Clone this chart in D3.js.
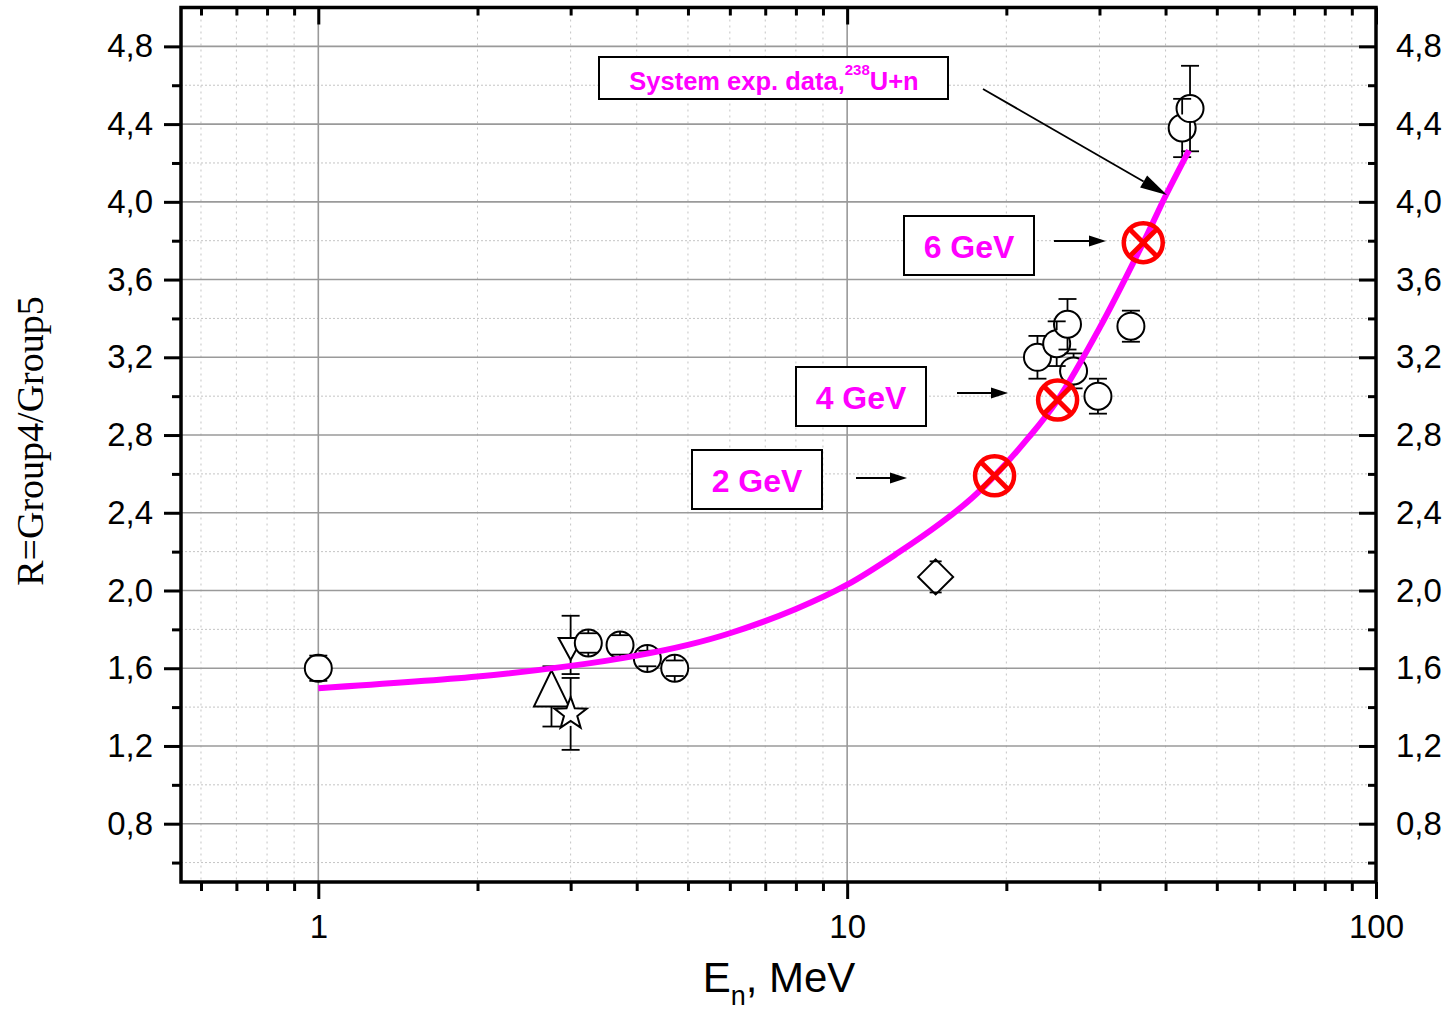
<!DOCTYPE html>
<html>
<head>
<meta charset="utf-8">
<script src="https://cdn.jsdelivr.net/npm/d3@7"></script>
<style>
  html, body { margin: 0; padding: 0; background: #fff; }
  svg { display: block; }
</style>
</head>
<body>
<svg id="chart" width="1456" height="1013"></svg>
<script>
// ---- data: ratio R = Group4/Group5 versus neutron energy ----
// experimental points drawn as open circles
const circleE   = [1.0, 3.24, 3.72, 4.19, 4.72, 22.9, 24.9, 26.1, 26.8, 29.8, 34.4, 43.0, 44.5];
const circleR   = [1.60, 1.73, 1.72, 1.65, 1.60, 3.20, 3.27, 3.37, 3.13, 3.00, 3.36, 4.38, 4.48];
const circleErr = [0.065, 0.05, 0.05, 0.04, 0.04, 0.11, 0.115, 0.13, 0.09, 0.09, 0.08, 0.15, 0.22];

// other data sets, one marker each
const upTriE = [2.76], upTriR = [1.455], upTriErr = [0.155];
const downTriE = [3.0], downTriR = [1.72], downTriErr = [0.15];
const starE = [3.0], starR = [1.365], starErr = [0.185];
const diamondE = [14.7], diamondR = [2.07], diamondErr = [0.08];

// systematics curve
const fitE = [1, 2, 3, 4, 5, 6, 8, 10, 12.5, 15, 17.2, 19, 22, 25, 30, 36.3, 40, 44.3];
const fitR = [1.497, 1.557, 1.612, 1.665, 1.72, 1.78, 1.905, 2.03, 2.195, 2.345, 2.475, 2.59, 2.785, 2.98, 3.35, 3.79, 4.03, 4.265];

// calculated points for proton energies
const calcE = [19.0, 25.0, 36.3];
const calcR = [2.59, 2.98, 3.79];
const calcLabels = ["2 GeV", "4 GeV", "6 GeV"];

// axis ticks
const xMajorTicks = [1, 10, 100];
const xMinorTicks = [0.6, 0.7, 0.8, 0.9, 2, 3, 4, 5, 6, 7, 8, 9, 20, 30, 40, 50, 60, 70, 80, 90];
const yMajorTicks = [0.8, 1.2, 1.6, 2.0, 2.4, 2.8, 3.2, 3.6, 4.0, 4.4, 4.8];
const yMinorTicks = [0.6, 1.0, 1.4, 1.8, 2.2, 2.6, 3.0, 3.4, 3.8, 4.2, 4.6];

// ---- layout ----
const L = 181, R = 1376, T = 7.5, B = 882;
const svg = d3.select("#chart");
svg.append("rect").attr("width", 1456).attr("height", 1013).attr("fill", "#fff");

const x = d3.scaleLog().domain([0.55, 100]).range([L, R]);
const y = d3.scaleLinear().domain([0.5, 5.0]).range([B, T]);
const fmt = v => d3.format(".1f")(v).replace(".", ",");
const SANS = "'Liberation Sans', Arial, sans-serif";

// ---- grid ----
const grid = svg.append("g");
grid.selectAll(".ymin").data(yMinorTicks).join("line")
  .attr("x1", L).attr("x2", R).attr("y1", d => y(d)).attr("y2", d => y(d))
  .attr("stroke", "#c4c4c4").attr("stroke-width", 1).attr("stroke-dasharray", "2,2");
grid.selectAll(".xmin").data(xMinorTicks).join("line")
  .attr("y1", T).attr("y2", B).attr("x1", d => x(d)).attr("x2", d => x(d))
  .attr("stroke", "#c4c4c4").attr("stroke-width", 1).attr("stroke-dasharray", "2,4");
grid.selectAll(".ymaj").data(yMajorTicks).join("line")
  .attr("x1", L).attr("x2", R).attr("y1", d => y(d)).attr("y2", d => y(d))
  .attr("stroke", "#9a9a9a").attr("stroke-width", 1.6);
grid.selectAll(".xmaj").data(xMajorTicks.filter(d => d < 100)).join("line")
  .attr("y1", T).attr("y2", B).attr("x1", d => x(d)).attr("x2", d => x(d))
  .attr("stroke", "#9a9a9a").attr("stroke-width", 1.6);

// ---- axes ----
function styleAxis(g) {
  g.select(".domain").remove();
  g.selectAll(".tick line").attr("stroke", "#000").attr("stroke-width", 3);
  g.selectAll(".tick text").attr("font-family", SANS).attr("font-size", 33).attr("fill", "#000");
}
// bottom: outward ticks with labels
svg.append("g").attr("transform", `translate(0,${B})`)
  .call(d3.axisBottom(x).tickValues(xMajorTicks).tickFormat(d3.format("d")).tickSize(17).tickPadding(16))
  .call(styleAxis);
svg.append("g").attr("transform", `translate(0,${B})`)
  .call(d3.axisBottom(x).tickValues(xMinorTicks).tickFormat("").tickSize(9))
  .call(styleAxis);
// top: inward ticks
svg.append("g").attr("transform", `translate(0,${T})`)
  .call(d3.axisTop(x).tickValues(xMajorTicks).tickFormat("").tickSize(-17))
  .call(styleAxis);
svg.append("g").attr("transform", `translate(0,${T})`)
  .call(d3.axisTop(x).tickValues(xMinorTicks).tickFormat("").tickSize(-8))
  .call(styleAxis);
// left: outward ticks with labels
svg.append("g").attr("transform", `translate(${L},0)`)
  .call(d3.axisLeft(y).tickValues(yMajorTicks).tickFormat(fmt).tickSize(17).tickPadding(11))
  .call(styleAxis);
svg.append("g").attr("transform", `translate(${L},0)`)
  .call(d3.axisLeft(y).tickValues(yMinorTicks).tickFormat("").tickSize(9))
  .call(styleAxis);
// right: inward ticks, labels outside
svg.append("g").attr("transform", `translate(${R},0)`)
  .call(d3.axisRight(y).tickValues(yMajorTicks).tickFormat(fmt).tickSize(-17).tickPadding(20))
  .call(styleAxis);
svg.append("g").attr("transform", `translate(${R},0)`)
  .call(d3.axisRight(y).tickValues(yMinorTicks).tickFormat("").tickSize(-8))
  .call(styleAxis);

// frame
svg.append("rect").attr("x", L).attr("y", T).attr("width", R - L).attr("height", B - T)
  .attr("fill", "none").attr("stroke", "#000").attr("stroke-width", 3.5);

// ---- axis titles ----
const xt = svg.append("text").attr("x", 779).attr("y", 992).attr("text-anchor", "middle")
  .attr("font-family", SANS).attr("font-size", 42).attr("fill", "#000");
xt.append("tspan").text("E");
xt.append("tspan").attr("font-size", 27).attr("dy", 13).text("n");
xt.append("tspan").attr("dy", -13).text(", MeV");

svg.append("text").attr("transform", "translate(43,441) rotate(-90)")
  .attr("text-anchor", "middle")
  .attr("font-family", "'Liberation Serif', 'Times New Roman', serif")
  .attr("font-size", 38).attr("fill", "#000").text("R=Group4/Group5");

// ---- markers with error bars ----
// error bar stems start at the symbol outline (gap = symbol extent above / below)
const marks = svg.append("g");
function errorBars(E, Rv, Err, cap, gapUp, gapDown) {
  const g = marks.append("g").attr("stroke", "#000").attr("stroke-width", 1.8).attr("fill", "none");
  E.forEach((e, i) => {
    const cx = x(e), cy = y(Rv[i]), lo = y(Rv[i] - Err[i]), hi = y(Rv[i] + Err[i]);
    g.append("line").attr("x1", cx).attr("x2", cx).attr("y1", hi).attr("y2", cy - gapUp);
    g.append("line").attr("x1", cx).attr("x2", cx).attr("y1", cy + gapDown).attr("y2", lo);
    g.append("line").attr("x1", cx - cap).attr("x2", cx + cap).attr("y1", lo).attr("y2", lo);
    g.append("line").attr("x1", cx - cap).attr("x2", cx + cap).attr("y1", hi).attr("y2", hi);
  });
}
function symbols(E, Rv, pathFn) {
  marks.append("g").selectAll("path").data(E).join("path")
    .attr("d", (e, i) => pathFn(x(e), y(Rv[i])))
    .attr("fill", "#fff").attr("stroke", "#000").attr("stroke-width", 2);
}
const circlePath = (cx, cy) => { const r = 13.5; return `M${cx - r},${cy}a${r},${r} 0 1,0 ${2 * r},0a${r},${r} 0 1,0 ${-2 * r},0Z`; };
const upTriPath = (cx, cy) => `M${cx},${cy - 26}L${cx + 17.5},${cy + 10}L${cx - 17.5},${cy + 10}Z`;
const downTriPath = (cx, cy) => `M${cx - 12},${cy - 7}L${cx + 12},${cy - 7}L${cx},${cy + 15}Z`;
const diamondPath = (cx, cy) => `M${cx},${cy - 17.5}L${cx + 17.5},${cy}L${cx},${cy + 17.5}L${cx - 17.5},${cy}Z`;
const starPath = (cx, cy) => {
  const pts = [];
  for (let k = 0; k < 10; k++) {
    const r = k % 2 === 0 ? 17 : 7;
    const a = -Math.PI / 2 + k * Math.PI / 5;
    pts.push([cx + r * Math.cos(a), cy + r * Math.sin(a)]);
  }
  return "M" + pts.map(p => p.join(",")).join("L") + "Z";
};

symbols(upTriE, upTriR, upTriPath);       errorBars(upTriE, upTriR, upTriErr, 9, 26, 10);
symbols(downTriE, downTriR, downTriPath); errorBars(downTriE, downTriR, downTriErr, 9, 7, 15);
symbols(starE, starR, starPath);          errorBars(starE, starR, starErr, 9, 17, 12);
symbols(diamondE, diamondR, diamondPath); errorBars(diamondE, diamondR, diamondErr, 6, 17.5, 17.5);
symbols(circleE, circleR, circlePath);    errorBars(circleE, circleR, circleErr, 9, 13.5, 13.5);

// ---- systematics curve ----
const fitPts = fitE.map((e, i) => [e, fitR[i]]);
svg.append("path").datum(fitPts)
  .attr("d", d3.line().x(d => x(d[0])).y(d => y(d[1])).curve(d3.curveCatmullRom.alpha(0.5)))
  .attr("fill", "none").attr("stroke", "#ff00ff").attr("stroke-width", 6);

// ---- calculated points ----
const calc = svg.append("g").attr("stroke", "#ff0000").attr("fill", "none");
calcE.forEach((e, i) => {
  const cx = x(e), cy = y(calcR[i]), d = 13;
  calc.append("circle").attr("cx", cx).attr("cy", cy).attr("r", 19.5).attr("stroke-width", 4.5);
  calc.append("line").attr("x1", cx - d).attr("y1", cy - d).attr("x2", cx + d).attr("y2", cy + d).attr("stroke-width", 5);
  calc.append("line").attr("x1", cx - d).attr("y1", cy + d).attr("x2", cx + d).attr("y2", cy - d).attr("stroke-width", 5);
});

// ---- annotations ----
const ann = svg.append("g");
function arrow(x1, y1, x2, y2, len, half) {
  const a = Math.atan2(y2 - y1, x2 - x1);
  const bx = x2 - len * Math.cos(a), by = y2 - len * Math.sin(a);
  ann.append("line").attr("x1", x1).attr("y1", y1).attr("x2", bx).attr("y2", by)
    .attr("stroke", "#000").attr("stroke-width", 1.8);
  const px = -Math.sin(a) * half, py = Math.cos(a) * half;
  ann.append("path")
    .attr("d", `M${x2},${y2}L${bx + px},${by + py}L${bx - px},${by - py}Z`)
    .attr("fill", "#000");
}
function labelBox(x0, y0, w, h) {
  ann.append("rect").attr("x", x0).attr("y", y0).attr("width", w).attr("height", h)
    .attr("fill", "#fff").attr("stroke", "#000").attr("stroke-width", 2);
}

// energy labels: box + arrow pointing at the calculated marker
const boxX = [692, 796, 904], boxY = [450, 367, 216];
calcLabels.forEach((t, i) => {
  labelBox(boxX[i], boxY[i], 130, 59);
  ann.append("text").attr("x", boxX[i] + 65).attr("y", boxY[i] + 42)
    .attr("text-anchor", "middle").attr("font-family", SANS).attr("font-weight", "bold")
    .attr("font-size", 32).attr("fill", "#ff00ff").text(t);
});
arrow(856, 478, 907, 478, 17, 5.5);
arrow(957, 393, 1008, 393, 17, 5.5);
arrow(1054, 241, 1106, 241, 17, 5.5);

// curve label
labelBox(599, 57, 349, 42);
const st = ann.append("text").attr("x", 774).attr("y", 90).attr("text-anchor", "middle")
  .attr("font-family", SANS).attr("font-weight", "bold").attr("font-size", 25.5).attr("fill", "#ff00ff");
st.append("tspan").text("System exp. data,");
st.append("tspan").attr("font-size", 15).attr("dy", -15).text("238");
st.append("tspan").attr("dy", 15).text("U+n");
arrow(983, 89, 1167, 195, 27, 7);
</script>
</body>
</html>
